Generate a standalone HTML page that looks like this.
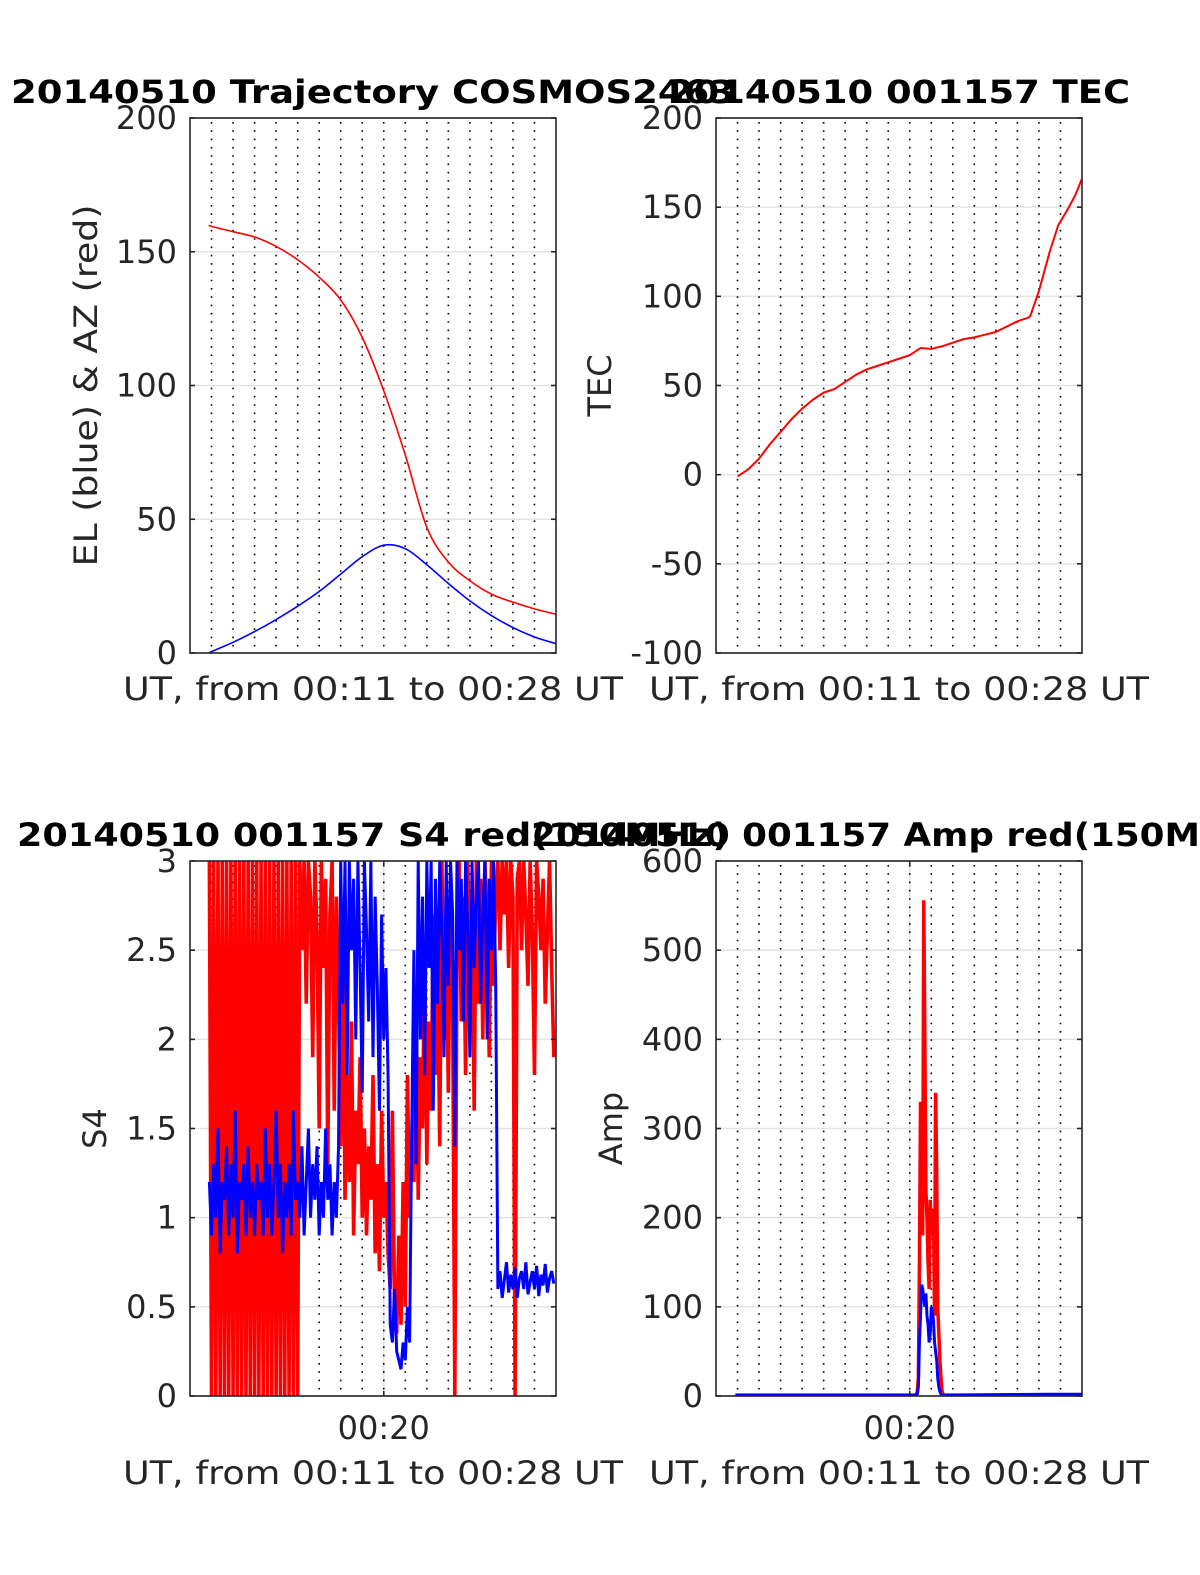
<!DOCTYPE html>
<html><head><meta charset="utf-8"><style>
html,body{margin:0;padding:0;background:#fff;}
svg{display:block;font-family:"DejaVu Sans","Liberation Sans",sans-serif;}
</style></head><body>
<svg id="fig" width="1200" height="1575" viewBox="0 0 1200 1575" xmlns="http://www.w3.org/2000/svg">
<rect width="1200" height="1575" fill="#fff"/>
</svg>
<script>
// ---- data ----
const minuteGrid = [12,13,14,15,16,17,18,19,20,21,22,23,24,25,26,27];
const trajTimes = [11.9,12,13,14,15,16,17,18,19,20,21,22,23,24,25,26,27,28];
const azValues = [160,159.5,157.5,155.5,152,147,140.5,132,118,98,74,47,34,27,22,19,16.5,14.5];
const elValues = [0,0.5,4,8,12.5,17.5,23,29.5,36,40.3,39,33,26,19.5,14,9.5,6,3.5];
const tecTimes = [12,12.5,13,13.5,14,14.5,15,15.5,16,16.5,17,17.5,18,18.5,19,19.5,20,20.5,21,21.5,22,22.5,23,23.5,24,24.5,25,25.5,25.6,26,26.5,26.9,27.3,27.7,28];
const tecValues = [-1,3,9,17,24,31,37,42,46,48,52,56,59,61,63,65,67,71,70.5,72,74,76,77,78.5,80,83,86,88,89,103,125,140,148,157,166];
const s4Start = 11.9, s4Step = 0.1;
const s4Red = [3,0,3,0,3,0,3,0,3,0,3,0,3,0,3,0,3,0,3,0,3,0,3,0,3,0,3,0,3,0,3,0,3,0,3,0,3,0,3,0,3,0,3,
2.5,3,2.2,3,2.8,1.9,3,2.6,1.5,3,2.4,2.9,1.3,2.7,3,1.6,2.8,2.2,
1.4,2.5,1.1,1.8,1.2,2.1,0.9,1.6,1.3,1.9,1.0,1.5,0.9,1.4,1.1,1.8,0.8,1.3,0.7,1.6,1.0,1.2,0.8,
0.6,1.6,0.5,0.35,0.9,0.4,1.2,0.5,1.8,1.0,1.4,
1.2,2.3,1.1,1.9,1.5,2.5,1.3,2.1,1.6,2.7,1.8,2.4,1.4,3,2.0,2.6,1.7,2.9,2.2,
0,
2.5,3,2.1,2.8,1.8,3,2.4,2.7,1.6,3,2.2,2.9,2.0,3,2.6,1.9,3,2.3,2.8,3,2.5,3,2.7,3,2.4,3,2.8,
0,
2.9,3,2.5,3,2.7,2.3,3,2.6,1.8,3,2.8,2.5,2.9,2.2,2.6,3,2.4,1.9];
const s4Blue = [1.2,0.9,1.3,1.0,1.5,0.8,1.2,1.1,1.4,0.9,1.3,1.0,1.6,0.8,1.2,1.1,1.3,0.9,1.4,1.0,
1.2,0.9,1.3,1.1,1.2,0.9,1.5,1.0,1.3,0.9,1.2,1.6,1.0,1.3,0.8,1.2,1.0,1.3,0.9,1.6,
1.1,1.2,1.0,1.4,0.9,1.2,1.5,1.0,1.3,1.1,1.4,0.9,1.2,1.0,1.5,1.1,1.3,0.9,1.2,1.0,1.4,
3,2.2,3,1.8,3,2.5,2.9,2.0,3,2.4,1.7,3,2.6,2.1,3,1.9,2.8,2.3,1.6,2.7,2.0,2.4,1.8,
0.4,0.3,0.6,0.25,0.2,0.15,0.3,0.2,0.5,0.3,1.5,
2.5,1.3,3,2.0,2.8,1.8,3,2.4,3,1.6,2.9,2.2,3,2.6,1.9,3,2.3,3,2.7,1.4,3,2.5,2.9,2.1,3,2.6,1.9,3,2.4,2.8,3,2.2,2.7,3,2.0,2.9,2.5,3,2.3,
0.6,0.7,0.55,0.65,0.75,0.58,0.68,0.6,0.72,0.55,0.66,0.7,0.6,0.75,0.57,0.64,0.7,0.6,0.73,0.56,0.68,0.62,0.74,0.58,0.66,0.7,0.63];
const ampTimes = [11.9,20.3,20.35,20.4,20.45,20.5,20.55,20.6,20.65,20.7,20.75,20.8,20.85,20.9,20.95,21,21.05,21.1,21.15,21.2,21.25,21.3,21.35,21.4,21.45,21.5,21.55,21.6,21.65,26.5,28];
const ampRed = [1,1,5,20,150,330,270,180,556,400,230,200,150,120,220,180,200,210,90,340,255,100,70,40,20,5,2,1,1,1,1];
const ampBlue = [1,1,2,10,60,90,125,120,110,100,115,90,80,60,70,100,95,85,60,50,40,20,10,5,2,1,1,1,1,2,2];
const yTicksTraj = [0,50,100,150,200];
const yTicksTec = [-100,-50,0,50,100,150,200];
const yTicksS4 = [0,0.5,1,1.5,2,2.5,3];
const yTicksAmp = [0,100,200,300,400,500,600];

const NS = "http://www.w3.org/2000/svg";
const svg = document.getElementById('fig');
function el(tag, attrs, parent){
  const e = document.createElementNS(NS, tag);
  for (const k in attrs) e.setAttribute(k, attrs[k]);
  (parent||svg).appendChild(e); return e;
}
function catmull(pts){
  let d = "M"+pts[0][0]+","+pts[0][1];
  for (let i=0;i<pts.length-1;i++){
    const p0=pts[i-1]||pts[i], p1=pts[i], p2=pts[i+1], p3=pts[i+2]||p2;
    const c1x=p1[0]+(p2[0]-p0[0])/6, c1y=p1[1]+(p2[1]-p0[1])/6;
    const c2x=p2[0]-(p3[0]-p1[0])/6, c2y=p2[1]-(p3[1]-p1[1])/6;
    d += " C"+c1x+","+c1y+" "+c2x+","+c2y+" "+p2[0]+","+p2[1];
  }
  return d;
}
let clipId = 0;
function panel(o){
  const L=o.x0, R=o.x1, T=o.y0, B=o.y1;
  const xs = t => L + (t-11)/(28-11)*(R-L);
  const ys = v => B - (v-o.ymin)/(o.ymax-o.ymin)*(B-T);
  const g = el('g', {});
  
  
  o.yticks.forEach(v=>{
    const ln = el('line',{x1:L,x2:R,y1:ys(v),y2:ys(v),stroke:'#e3e3e3','stroke-width':1.5},g);
    
    
  });
  if (o.xtick){
    const ln = el('line',{x1:xs(20),x2:xs(20),y1:T,y2:B,stroke:'#e3e3e3','stroke-width':1.5},g);
    
    
  }
  minuteGrid.forEach(m=>{
    const ln = el('line',{x1:xs(m),x2:xs(m),y1:T+4,y2:B,stroke:'#000','stroke-width':1.6,'stroke-dasharray':'1.6,6.7'},g);
    
    
  });
  const cid = 'clip'+(clipId++);
  const cp = el('clipPath',{id:cid},g);
  el('rect',{x:L,y:T,width:R-L,height:B-T},cp);
  const dg = el('g',{'clip-path':'url(#'+cid+')'},g);
  o.series.forEach(s=>{
    const pts = s.t.map((t,i)=>[xs(t), ys(s.v[i])]);
    let p;
    if (s.smooth) p = el('path',{d:catmull(pts),fill:'none',stroke:s.color,'stroke-width':s.w||1.6},dg);
    else p = el('polyline',{points:pts.map(q=>q[0].toFixed(2)+","+q[1].toFixed(2)).join(' '),fill:'none',stroke:s.color,'stroke-width':s.w||1.6,'stroke-linejoin':'bevel'},dg);
    
    
  });
  const box = el('rect',{x:L,y:T,width:R-L,height:B-T,fill:'none',stroke:'#262626','stroke-width':1.6},g);
  
  
  o.yticks.forEach(v=>{
    el('line',{x1:L,x2:L+5,y1:ys(v),y2:ys(v),stroke:'#262626','stroke-width':1.6},g);
    el('line',{x1:R-5,x2:R,y1:ys(v),y2:ys(v),stroke:'#262626','stroke-width':1.6},g);
    const tx = el('text',{x:L-13,y:ys(v)+11,'text-anchor':'end','font-size':32,fill:'#262626'},g);
    tx.textContent = String(v);
    
    
  });
  if (o.xtick){
    el('line',{x1:xs(20),x2:xs(20),y1:B-5,y2:B,stroke:'#262626','stroke-width':1.6},g);
    el('line',{x1:xs(20),x2:xs(20),y1:T,y2:T+5,stroke:'#262626','stroke-width':1.6},g);
    const tx = el('text',{x:xs(20),y:B+43,'text-anchor':'middle','font-size':32,fill:'#262626'},g);
    tx.textContent = '00:20';
    
    
  }
  const cx = (L+R)/2;
  const xl = el('text',{x:cx,y:o.xlabelY,'text-anchor':'middle','font-size':32,fill:'#262626',textLength:500,lengthAdjust:'spacingAndGlyphs'},g);
  xl.textContent = 'UT, from 00:11 to 00:28 UT';
  
  
  const yl = el('text',{x:0,y:0,'text-anchor':'middle','font-size':32,fill:'#262626',transform:'translate('+o.ylabelX+','+((T+B)/2)+') rotate(-90)'},g);
  if (o.ylabelLen) { yl.setAttribute('textLength', o.ylabelLen); yl.setAttribute('lengthAdjust','spacingAndGlyphs'); }
  yl.textContent = o.ylabel;
  
  
  const ti = el('text',{x:cx,y:T-15,'text-anchor':'middle','font-size':32,'font-weight':'bold',fill:'#000'},g);
  if (o.titleLen) { ti.setAttribute('textLength', o.titleLen); ti.setAttribute('lengthAdjust','spacingAndGlyphs'); }
  ti.textContent = o.title;
  
  
}
const s4Times = s4Red.map((_,i)=>s4Start+i*s4Step);

panel({name:'trajectory-panel',x0:190,x1:556,y0:118,y1:653,ymin:0,ymax:200,yticks:yTicksTraj,
  title:'20140510 Trajectory COSMOS2463',titleLen:724,ylabel:'EL (blue) & AZ (red)',ylabelX:97,ylabelLen:362,xlabelY:700,
  series:[{name:'az-line',t:trajTimes,v:azValues,color:'#ff0000',smooth:true},{name:'el-line',t:trajTimes,v:elValues,color:'#0000ff',smooth:true}]});
panel({name:'tec-panel',x0:716,x1:1082,y0:118,y1:653,ymin:-100,ymax:200,yticks:yTicksTec,
  title:'20140510 001157 TEC',titleLen:462,ylabel:'TEC',ylabelX:611,xlabelY:700,
  series:[{name:'tec-line',t:tecTimes,v:tecValues,color:'#ff0000',w:2}]});
panel({name:'s4-panel',x0:190,x1:556,y0:861,y1:1396,ymin:0,ymax:3,yticks:yTicksS4,xtick:true,
  title:'20140510 001157 S4 red(150MHz)',titleLen:712,ylabel:'S4',ylabelX:106,xlabelY:1484,
  series:[{name:'s4-red-line',t:s4Times,v:s4Red,color:'#ff0000',w:3.6},{name:'s4-blue-line',t:s4Times,v:s4Blue,color:'#0000ff',w:3}]});
panel({name:'amp-panel',x0:716,x1:1082,y0:861,y1:1396,ymin:0,ymax:600,yticks:yTicksAmp,xtick:true,
  title:'20140510 001157 Amp red(150MHz)',titleLen:736,ylabel:'Amp',ylabelX:622,xlabelY:1484,
  series:[{name:'amp-red-line',t:ampTimes,v:ampRed,color:'#ff0000',w:3.5},{name:'amp-blue-line',t:ampTimes,v:ampBlue,color:'#0000ff',w:3}]});
</script>
</body></html>
